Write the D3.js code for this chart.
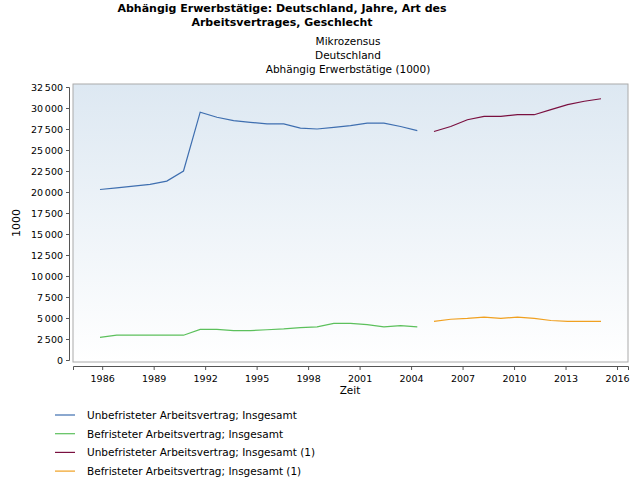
<!DOCTYPE html>
<html><head><meta charset="utf-8">
<script src="https://cdn.jsdelivr.net/npm/d3@7"></script>
<style>body{margin:0;background:#fff;font-family:"DejaVu Sans",sans-serif}</style>
</head><body>
<svg id="c" width="640" height="480"></svg>
<script>
const yearsA = d3.range(1985, 2005)
const yearsB = d3.range(2005, 2016)
const unbefA = [20300,20500,20700,20900,21300,22500,29500,28900,28500,28300,28100,28100,27600,27500,27700,27900,28200,28200,27800,27300]
const befA = [2700,2950,2950,2950,2950,2950,3650,3650,3500,3500,3600,3700,3850,3950,4350,4350,4200,3950,4100,3950]
const unbefB = [27200,27800,28600,29000,29000,29200,29200,29800,30400,30800,31100]
const befB = [4600,4850,4950,5100,4950,5100,4950,4700,4600,4600,4600]
const xTicks = [1986,1989,1992,1995,1998,2001,2004,2007,2010,2013,2016]
const series = [
  {name:'Unbefristeter Arbeitsvertrag; Insgesamt', years:yearsA, values:unbefA, color:'#3f6fb0'},
  {name:'Befristeter Arbeitsvertrag; Insgesamt', years:yearsA, values:befA, color:'#5cc05c'},
  {name:'Unbefristeter Arbeitsvertrag; Insgesamt (1)', years:yearsB, values:unbefB, color:'#7a1040'},
  {name:'Befristeter Arbeitsvertrag; Insgesamt (1)', years:yearsB, values:befB, color:'#f0a020'}
]

const svg = d3.select('#c')
const L = 73, R = 628, T = 84, B = 362
const x = d3.scaleLinear().domain([1984.3, 2016.64]).range([L, R])
// data points sit slightly off the year ticks in the original
const xd = d3.scaleLinear().domain([1985, 2015]).range([100, 601])
const y = d3.scaleLinear().domain([0, 32500]).range([360, 87])

const defs = svg.append('defs')
const g = defs.append('linearGradient').attr('id', 'bg').attr('x1', 0).attr('x2', 0).attr('y1', 0).attr('y2', 1)
g.append('stop').attr('offset', 0).attr('stop-color', '#dde8f2')
g.append('stop').attr('offset', 1).attr('stop-color', '#ffffff')
svg.append('rect').attr('x', L).attr('y', T).attr('width', R - L).attr('height', B - T)
  .attr('fill', 'url(#bg)').attr('stroke', '#aaa')

const tf = d3.formatLocale({decimal: ',', thousands: '\u202f', grouping: [3], currency: ['', '']}).format(',')
const ya = svg.append('g').attr('transform', `translate(${L - 4},0)`)
  .call(d3.axisLeft(y).tickValues(d3.range(0, 32501, 2500)).tickFormat(d => tf(d)).tickSizeOuter(0).tickSize(3))
ya.selectAll('text').attr('font-size', 9.5).attr('font-family', 'DejaVu Sans').attr('fill', '#000')
const xa = svg.append('g').attr('transform', `translate(0,${B + 4})`)
  .call(d3.axisBottom(x).tickValues(xTicks).tickFormat(d3.format('d')).tickSizeOuter(0).tickSize(4))
xa.selectAll('text').attr('font-size', 9.5).attr('font-family', 'DejaVu Sans').attr('fill', '#000').attr('dy', '0.9em')
svg.selectAll('.domain, .tick line').attr('stroke', '#555')

const line = d3.line().x(d => xd(d[0])).y(d => y(d[1]))
series.forEach(s => {
  svg.append('path').datum(s.years.map((yr, i) => [yr, s.values[i]]))
    .attr('d', line).attr('fill', 'none').attr('stroke', s.color).attr('stroke-width', 1.2)
})

const txt = (t, xx, yy, opt = {}) => svg.append('text').text(t).attr('x', xx).attr('y', yy)
  .attr('font-size', opt.size || 10.5).attr('font-weight', opt.bold ? 'bold' : 'normal')
  .attr('text-anchor', opt.anchor || 'middle').attr('fill', '#000')
txt('Abhängig Erwerbstätige: Deutschland, Jahre, Art des', 282, 12, {bold: true, size: 11})
txt('Arbeitsvertrages, Geschlecht', 282, 26, {bold: true, size: 11})
txt('Mikrozensus', 348, 45)
txt('Deutschland', 348, 59)
txt('Abhängig Erwerbstätige (1000)', 348, 73)
txt('Zeit', 350, 394)
svg.append('text').text('1000').attr('transform', 'translate(20,223) rotate(-90)')
  .attr('text-anchor', 'middle').attr('font-size', 11)

series.forEach((s, i) => {
  const yy = 415 + i * 18.7
  svg.append('line').attr('x1', 55).attr('x2', 75).attr('y1', yy).attr('y2', yy).attr('stroke', s.color).attr('stroke-width', 1.2)
  txt(s.name, 87, yy + 4, {anchor: 'start'})
})
</script>
</body></html>
